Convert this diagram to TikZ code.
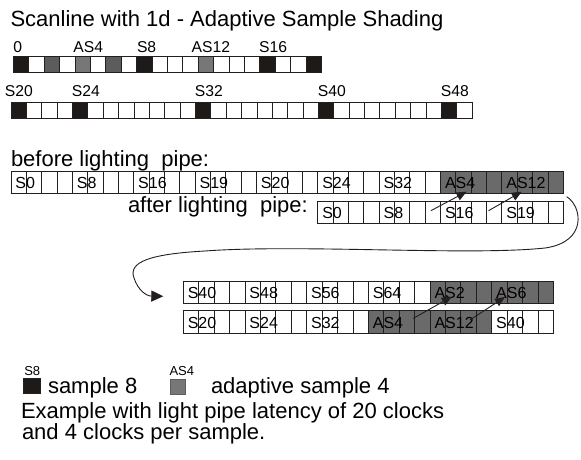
\documentclass[tikz,border=0pt]{standalone}
\usepackage{fontspec}
\setmainfont{Liberation Sans}
\usetikzlibrary{arrows.meta,calc}
\definecolor{blk}{HTML}{1E1A18}
\definecolor{dgray}{HTML}{5C5C5C}
\definecolor{mgray}{HTML}{777777}
\definecolor{pgray}{HTML}{6A6A6A}
\definecolor{edge}{HTML}{231F20}
\tikzset{
  cell/.style={draw=edge, line width=0.8pt, inner sep=0pt, outer sep=0pt, anchor=north west},
  small/.style={cell, minimum width=15.4pt, minimum height=16pt},
  big/.style={cell, minimum width=15.36pt, minimum height=22pt},
  txt/.style={inner sep=0pt, outer sep=0pt, anchor=base west, text=black},
  toplbl/.style={txt, font=\fontsize{15.7}{18}\selectfont},
  inlbl/.style={txt, font=\fontsize{16}{18}\selectfont},
  bigtxt/.style={txt, font=\fontsize{22}{26}\selectfont},
  leglbl/.style={txt, font=\fontsize{13}{15}\selectfont},
  arr/.style={draw=edge, line width=0.9pt, -{Triangle[length=10pt,width=8.5pt]}},
}
\begin{document}
\begin{tikzpicture}[x=1pt, y=-1pt]
\useasboundingbox (0,0) rectangle (581,460);
\fill[white] (0,0) rectangle (581,460);

% title
\node[bigtxt] (title) at (10.5,27) {Scanline with 1d - Adaptive Sample Shading};

% row 1
\foreach \i/\c in {0/blk,1/white,2/dgray,3/white,4/mgray,5/white,6/dgray,7/white,8/blk,9/white,10/white,11/white,12/mgray,13/white,14/white,15/white,16/blk,17/white,18/white,19/blk}{
  \node[small, fill=\c] (r1-\i) at ({13.3+\i*15.4},56) {};
}
\node[toplbl] (l1a) at ($(r1-0.north west)+(0,-3.5)$) {0};
\node[toplbl] (l1b) at ($(r1-4.north west)+(-1.5,-3.5)$) {AS4};
\node[toplbl] (l1c) at ($(r1-8.north west)+(0.5,-3.5)$) {S8};
\node[toplbl] (l1d) at ($(r1-12.north west)+(-6.5,-3.5)$) {AS12};
\node[toplbl] (l1e) at ($(r1-16.north west)+(-0.5,-3.5)$) {S16};

% row 2
\foreach \i in {0,...,29}{
  \pgfmathtruncatemacro\isb{(\i==0)||(\i==4)||(\i==12)||(\i==20)||(\i==28)}
  \ifnum\isb=1 \def\c{blk}\else\def\c{white}\fi
  \node[small, minimum width=15.37pt, minimum height=15.6pt, fill=\c] (r2-\i) at ({11+\i*15.37},102.7) {};
}
\node[toplbl] (l2a) at (5,96.7) {S20};
\node[toplbl] (l2b) at ($(r2-4.north west)+(-0.5,-6)$) {S24};
\node[toplbl] (l2c) at ($(r2-12.north west)+(-0.5,-6)$) {S32};
\node[toplbl] (l2d) at ($(r2-20.north west)+(-0.5,-6)$) {S40};
\node[toplbl] (l2e) at ($(r2-28.north west)+(-0.5,-6)$) {S48};

% before lighting pipe
\node[bigtxt] (before) at (11,166) {before lighting\ \ pipe:};
\foreach \i in {0,...,35}{
  \ifnum\i>27 \def\c{pgray}\else\def\c{white}\fi
  \node[big, fill=\c] (b-\i) at ({11+\i*15.34},171) {};
}
\foreach \i/\t in {0/S0,4/S8,8/S16,12/S19,16/S20,20/S24,24/S32,28/AS4,32/AS12}{
  \node[inlbl] (bl-\i) at ($(b-\i.south west)+(4.5,-4.5)$) {\t};
}

% after lighting pipe
\node[bigtxt] (after) at (128,212) {after lighting\ \ pipe:};
\foreach \i in {0,...,15}{
  \node[big, fill=white] (a-\i) at ({317.8+\i*15.34},201) {};
}
\foreach \i/\t in {0/S0,4/S8,8/S16,12/S19}{
  \node[inlbl] (al-\i) at ($(a-\i.south west)+(4.5,-4.5)$) {\t};
}
\coordinate (s1) at ($(a-7.center)+(-2,-1.3)$);
\coordinate (t1) at ($(b-29.south)+(3,-1.3)$);
\coordinate (s2) at ($(a-11.west)+(2,-1.3)$);
\coordinate (t2) at ($(b-33.south)+(-3.2,-1.3)$);
\draw[arr] (s1) -- (t1);
\draw[arr] (s2) -- (t2);

% lower rows
\foreach \i in {0,...,23}{
  \ifnum\i>15 \def\c{pgray}\else\def\c{white}\fi
  \node[big, minimum width=15.42pt, minimum height=22.5pt, fill=\c] (la-\i) at ({183.3+\i*15.42},281) {};
}
\foreach \i in {0,...,23}{
  \def\c{white}
  \ifnum\i>11 \ifnum\i<20 \def\c{pgray}\fi\fi
  \node[big, minimum width=15.42pt, minimum height=22.5pt, fill=\c] (lb-\i) at ({183.3+\i*15.42},310.5) {};
}
\foreach \i/\t in {0/S40,4/S48,8/S56,12/S64,16/AS2,20/AS6}{
  \node[inlbl] (lal-\i) at ($(la-\i.south west)+(4.5,-4.8)$) {\t};
}
\foreach \i/\t in {0/S20,4/S24,8/S32,12/AS4,16/AS12,20/S40}{
  \node[inlbl] (lbl-\i) at ($(lb-\i.south west)+(4.5,-4.8)$) {\t};
}
\coordinate (s3) at ($(lb-15.west)+(-1.3,-3.4)$);
\coordinate (t3) at ($(la-17.south)+(-1.4,-6.8)$);
\coordinate (s4) at ($(lb-18.west)+(9,-1.75)$);
\coordinate (t4) at ($(la-21.south west)+(-2.1,-6.5)$);
\draw[arr] (s3) -- (t3);
\draw[arr] (s4) -- (t4);

% long curved connector
\coordinate (cs) at ($(a-15.north east)+(3.4,-4.3)$);
\coordinate (ct) at ($(la-0.west)+(-20,4)$);
\draw[draw=edge, line width=0.9pt, -{Triangle[length=12pt,width=11pt]}]
  (cs) .. controls (582,206) and (588,242) .. (545,248)
       .. controls (470,256) and (300,244) .. (205,251)
       .. controls (150,254) and (128,262) .. (134,278)
       .. controls (138,290) and (146,296) .. (ct);

% legend
\node[cell, anchor=north west, minimum width=16.7pt, minimum height=15pt, fill=blk] (leg1) at (23.3,378.3) {};
\node[leglbl] (leg1l) at ($(leg1.north west)+(1,-3.3)$) {S8};
\node[bigtxt] (leg1t) at (48,393) {sample 8};
\node[cell, anchor=north west, minimum width=15.7pt, minimum height=15pt, fill=mgray, draw=dgray] (leg2) at (170,379) {};
\node[leglbl] (leg2l) at ($(leg2.north west)+(-0.5,-3.5)$) {AS4};
\node[bigtxt] (leg2t) at (211,393) {adaptive sample 4};

\node[bigtxt] (ex1) at (21,418) {Example with light pipe latency of 20 clocks};
\node[bigtxt] (ex2) at (22,439) {and 4 clocks per sample.};
\end{tikzpicture}
\end{document}
